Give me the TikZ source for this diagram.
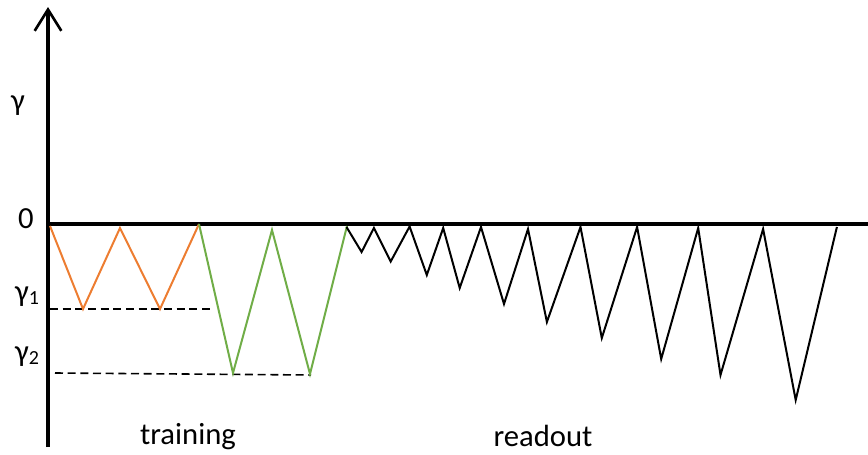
\documentclass[tikz,border=0pt]{standalone}
\usepackage{fontspec}
\setmainfont{Carlito}
\usetikzlibrary{arrows.meta}
\definecolor{trainA}{RGB}{237,125,49}
\definecolor{trainB}{RGB}{112,173,71}
\begin{document}
\begin{tikzpicture}[x=0.75pt,y=-0.75pt,
  axis/.style={line width=2.3pt,black},
  wave/.style={line width=1.5pt,line join=miter},
  level/.style={line width=1.2pt,dash pattern=on 6pt off 3.5pt},
  lbl/.style={font=\fontsize{23}{26}\selectfont,inner sep=0pt}]
\useasboundingbox (0,0) rectangle (868,454);

% axes
\coordinate (yb) at (48,447);
\coordinate (yt) at (48,7);
\coordinate (xl) at (46,224);
\coordinate (xr) at (868,224);
\draw[axis,-{Straight Barb[length=16pt,width=20pt,line width=2pt]}] (yb) -- (yt);
\draw[axis] (xl) -- (xr);

% axis labels
\node[lbl] (gam) at (18,106) {γ};
\node[lbl] (zero) at (26,219) {0};
\node[lbl] (g1) at (27,297) {γ\raisebox{-2pt}{\fontsize{15}{17}\selectfont 1}};
\node[lbl] (g2) at (27,357) {γ\raisebox{-2pt}{\fontsize{15}{17}\selectfont 2}};
\node[lbl] (train) at (188,437) {training};
\node[lbl] (read) at (543,436) {readout};

% threshold levels
\coordinate (d1a) at (50,309);
\coordinate (d1b) at (210,309);
\coordinate (d2a) at (55,373);
\coordinate (d2b) at (311,375);
\draw[level] (d1a) -- (d1b);
\draw[level] (d2a) -- (d2b);

% training sweeps to gamma_1
\draw[wave,trainA] (50,226) -- (83,309) -- (120,228) -- (160,309) -- (199,224);
% training sweeps to gamma_2
\draw[wave,trainB] (199,224) -- (233,373) -- (272,230) -- (310,374) -- (347,226);
% readout sweeps of growing depth
\draw[wave,black] (346.5,227) -- (361.6,252) -- (373.9,228) -- (390.7,261.5)
  -- (409.6,226.5) -- (426.8,275) -- (443.2,228) -- (459.7,288) -- (481,227)
  -- (504,304) -- (528,229) -- (546.9,322) -- (580.5,227) -- (601.8,338)
  -- (637.1,227) -- (661.2,359) -- (698.2,228) -- (720.5,375) -- (763.1,229)
  -- (795.7,400) -- (836.9,227);
\end{tikzpicture}
\end{document}
